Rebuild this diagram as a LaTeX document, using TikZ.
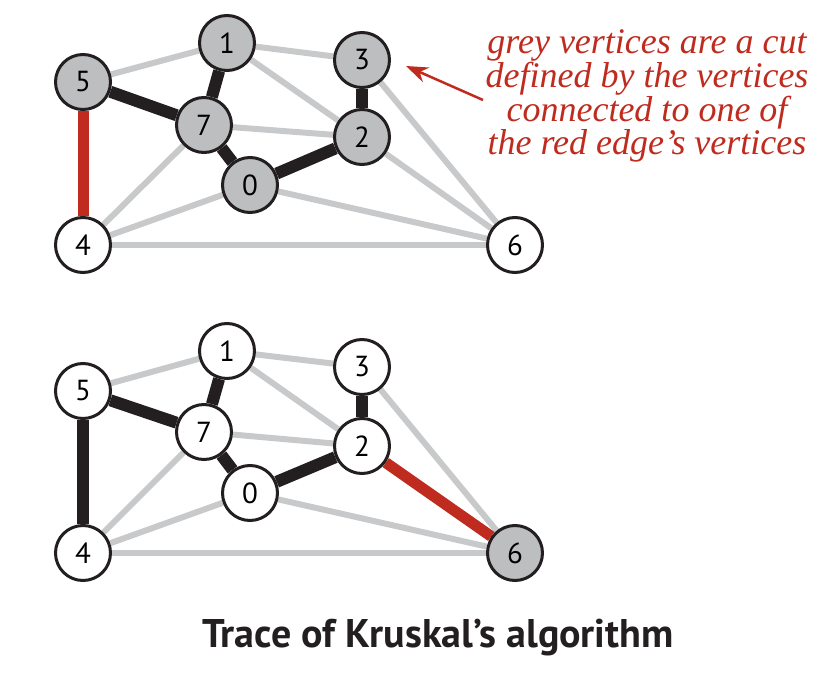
\documentclass[tikz,border=0pt]{standalone}
\usepackage{fontspec}
\setmainfont{PT Sans}
\newfontfamily\notefont{Liberation Serif}
\usetikzlibrary{arrows.meta,backgrounds}
\definecolor{vgrey}{HTML}{BCBEC0}
\definecolor{egrey}{HTML}{C8C9CB}
\definecolor{ered}{HTML}{BF2B1E}
\definecolor{eblack}{HTML}{231F20}
\tikzset{
  vtx/.style={circle,draw=eblack,line width=3pt,minimum size=55pt,inner sep=0pt,fill=white,font=\fontsize{29}{30}\selectfont},
  gvtx/.style={vtx,fill=vgrey},
  gedge/.style={draw=egrey,line width=6pt},
  bedge/.style={draw=eblack,line width=12pt},
  redge/.style={draw=ered,line width=11pt},
}
\begin{document}
\begin{tikzpicture}[x=1pt,y=-1pt]
\useasboundingbox (0,0) rectangle (825,693);
% top graph
\node[gvtx] (t1) at (227,43) {1};
\node[gvtx] (t3) at (362,60) {3};
\node[gvtx] (t5) at (83,82) {5};
\node[gvtx] (t7) at (204,125) {7};
\node[gvtx] (t2) at (362,137) {2};
\node[gvtx] (t0) at (250,185) {0};
\node[vtx] (t4) at (83,245) {4};
\node[vtx] (t6) at (515,245) {6};
% bottom graph
\node[vtx] (b1) at (227,351) {1};
\node[vtx] (b3) at (362,367) {3};
\node[vtx] (b5) at (83,391) {5};
\node[vtx] (b7) at (204,432) {7};
\node[vtx] (b2) at (362,446) {2};
\node[vtx] (b0) at (250,493) {0};
\node[vtx] (b4) at (83,553) {4};
\node[gvtx] (b6) at (515,553) {6};
\begin{scope}[on background layer]
\foreach \p in {t,b}{
  \foreach \a/\b in {5/1,1/3,1/2,7/2,7/4,0/4,4/6,0/6,3/6}{
    \path[gedge] (\p\a) -- (\p\b);
  }
  \foreach \a/\b in {5/7,1/7,7/0,0/2,3/2}{
    \path[bedge] (\p\a) -- (\p\b);
  }
}
\path[gedge] (t2) -- (t6);
\path[redge] (t5) -- (t4);
\path[bedge] (b5) -- (b4);
\path[redge] (b2) -- (b6);
\end{scope}
% annotation
\node[align=center,text=ered,font=\notefont\itshape\fontsize{36}{33}\selectfont] (note) at (647,96)
  {grey vertices are a cut\\defined by the vertices\\connected to one of\\the red edge’s vertices};
\coordinate (tip) at (406,66);
\coordinate (tail) at (483,100);
\draw[ered,line width=2.5pt,-{Stealth[length=22pt,width=16pt]}] (tail) -- (tip);
% title
\node[font=\bfseries\fontsize{40}{44}\selectfont,text=eblack] (title) at (438,638) {Trace of Kruskal’s algorithm};
\end{tikzpicture}
\end{document}
